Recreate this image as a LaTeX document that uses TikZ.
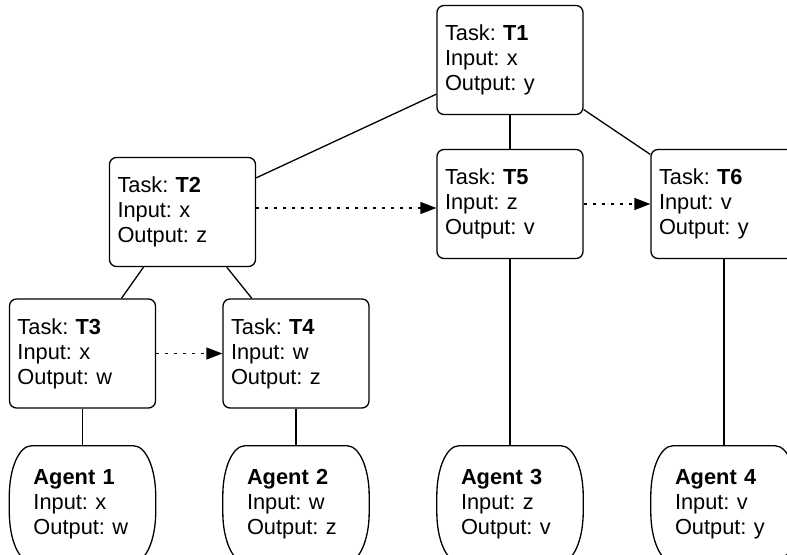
\documentclass[tikz,border=0pt]{standalone}
\usepackage{fontspec}
\setmainfont{Liberation Sans}
\usetikzlibrary{arrows.meta}
\frenchspacing

\tikzset{
  edge/.style={draw=black, line width=1.3bp},
  boxtext/.style={font=\fontsize{21.8bp}{25bp}\selectfont, align=left},
  task/.style={edge, boxtext, rounded corners=7bp, minimum width=146bp,
    minimum height=109bp, inner xsep=8bp, inner ysep=0bp, text width=130bp},
  agent/.style={boxtext, minimum width=146bp, minimum height=116bp,
    inner xsep=24bp, inner ysep=0bp, text width=98bp},
  flow/.style={edge, dash pattern=on 3bp off 6bp,
    -{Triangle[length=16bp,width=12bp]}},
}

% outline of an agent: flat top and bottom, bulging sides
\newcommand\agentframe[1]{%
  \draw[edge] ([yshift=-50bp]#1.north west)
    arc[start angle=180, end angle=90, x radius=22bp, y radius=50bp]
    -- ([xshift=-22bp]#1.north east)
    arc[start angle=90, end angle=0, x radius=22bp, y radius=50bp]
    -- ([yshift=50bp]#1.south east)
    arc[start angle=0, end angle=-90, x radius=22bp, y radius=50bp]
    -- ([xshift=22bp]#1.south west)
    arc[start angle=-90, end angle=-180, x radius=22bp, y radius=50bp]
    -- cycle;}

\begin{document}
\begin{tikzpicture}[x=1bp, y=1bp]
  \useasboundingbox (0,0) rectangle (787,-555);
  \clip (0,0) rectangle (787,-555);

  % task hierarchy
  \node[task] (T1) at (510,-60)    {Task: \textbf{T1}\\Input: x\\Output: y};
  \node[task] (T2) at (182.5,-212) {Task: \textbf{T2}\\Input: x\\Output: z};
  \node[task] (T5) at (510,-204)   {Task: \textbf{T5}\\Input: z\\Output: v};
  \node[task] (T6) at (724,-204)   {Task: \textbf{T6}\\Input: v\\Output: y};
  \node[task] (T3) at (82.5,-353.5) {Task: \textbf{T3}\\Input: x\\Output: w};
  \node[task] (T4) at (296,-353.5)  {Task: \textbf{T4}\\Input: w\\Output: z};

  % agents
  \node[agent] (A1) at (82.5,-504) {\textbf{Agent 1}\\Input: x\\Output: w};
  \node[agent] (A2) at (296,-504)  {\textbf{Agent 2}\\Input: w\\Output: z};
  \node[agent] (A3) at (510,-504)  {\textbf{Agent 3}\\Input: z\\Output: v};
  \node[agent] (A4) at (724,-504)  {\textbf{Agent 4}\\Input: v\\Output: y};
  \agentframe{A1}
  \agentframe{A2}
  \agentframe{A3}
  \agentframe{A4}

  % decomposition links
  \draw[edge] (T1) -- (T2);
  \draw[edge] (T1) -- (T5);
  \draw[edge] (T1) -- (T6);
  \draw[edge] (T2) -- (T3);
  \draw[edge] (T2) -- (T4);
  \draw[edge] (T3) -- (A1);
  \draw[edge] (T4) -- (A2);
  \draw[edge] (T5) -- (A3);
  \draw[edge] (T6) -- (A4);

  % data flow between sibling tasks
  \draw[flow] (T3) -- (T4);
  \draw[flow] (T5) -- (T6);
  \draw[flow] ([yshift=4bp]T2.east) -- ([yshift=4bp]T2.east -| T5.west);
\end{tikzpicture}
\end{document}
